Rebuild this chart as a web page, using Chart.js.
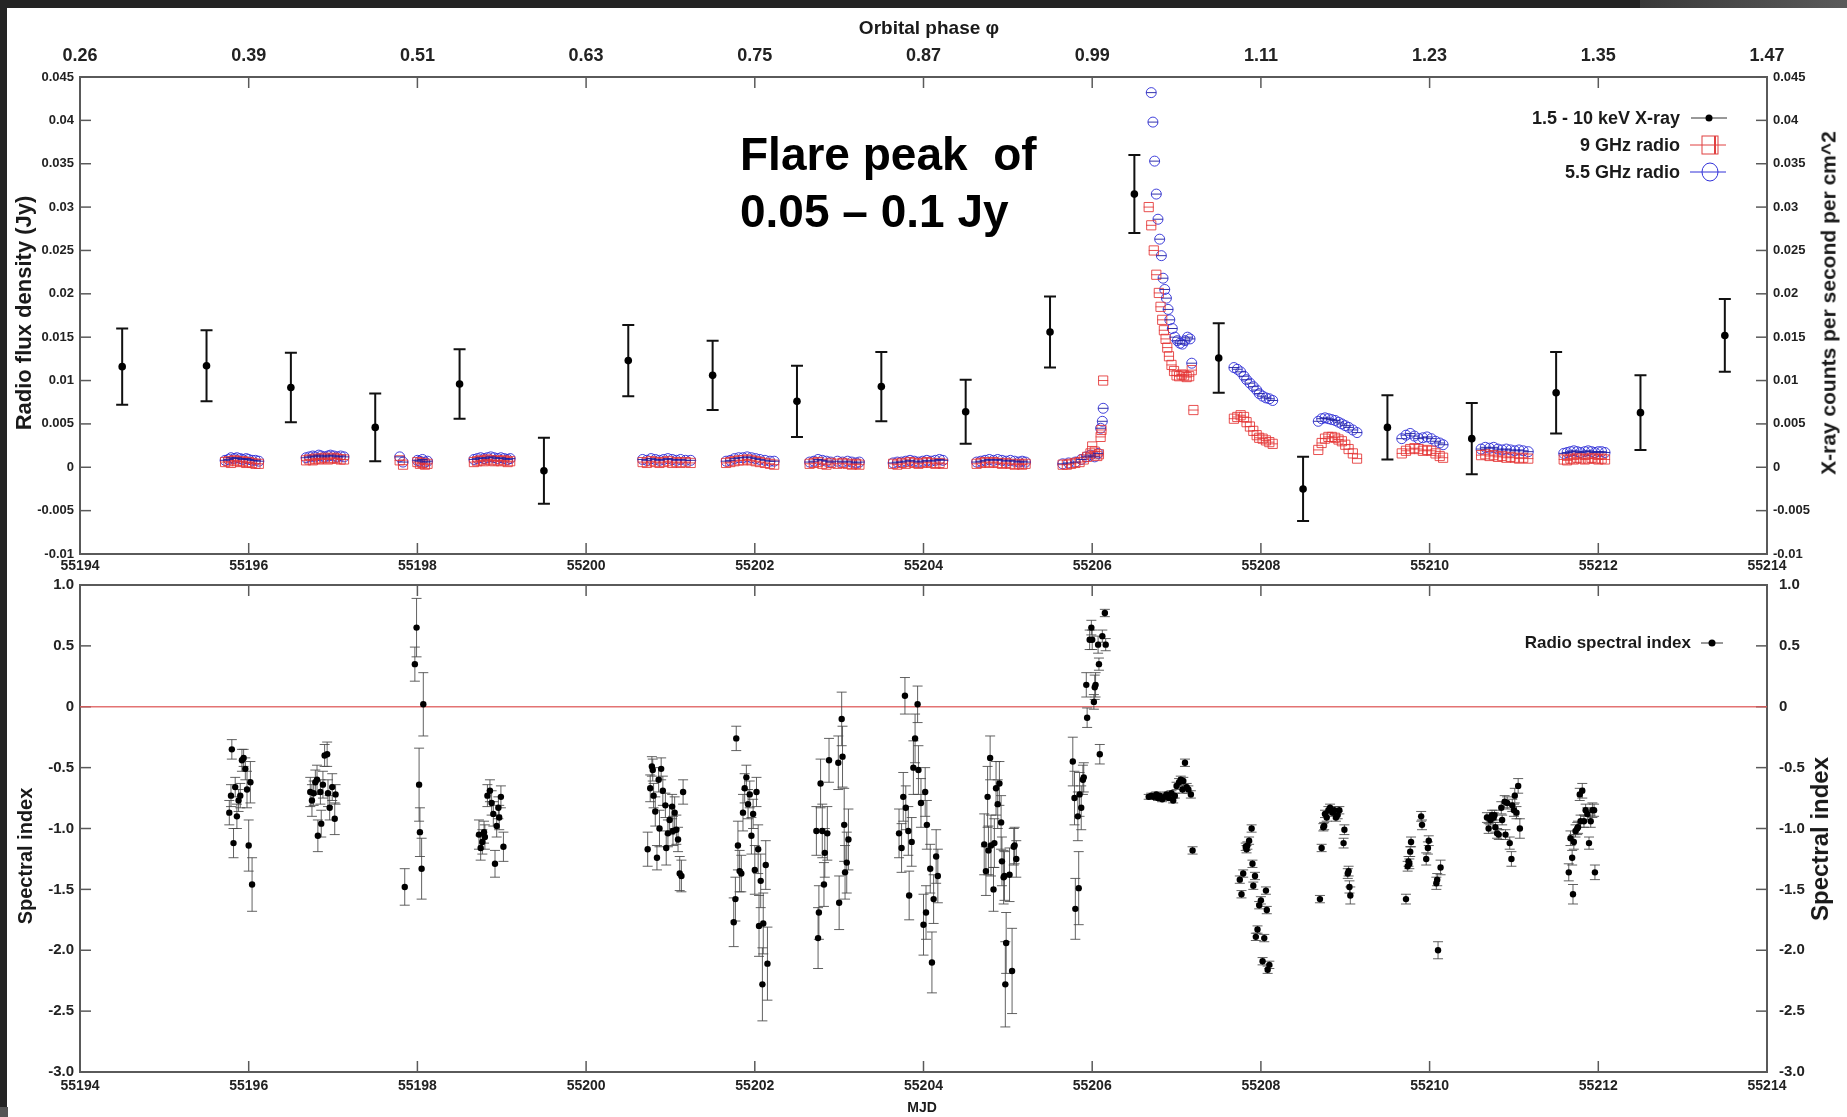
<!DOCTYPE html>
<html>
<head>
<meta charset="utf-8">
<script src="https://cdn.jsdelivr.net/npm/chart.js@4.4.0/dist/chart.umd.min.js"></script>
<style>
html,body{margin:0;padding:0;background:#fff;width:1847px;height:1117px;overflow:hidden;position:relative;font-family:"Liberation Sans",Arial,sans-serif;}
canvas{position:absolute;left:0;}
#c1{top:0;}
#c2{top:561px;}
.t{position:absolute;font-weight:bold;color:#1a1a1a;white-space:nowrap;line-height:1;}
.rot{transform:translate(-50%,-50%) rotate(-90deg);}
.ctr{transform:translate(-50%,-50%);}
.strip{position:absolute;background:#242424;}
</style>
</head>
<body>
<canvas id="c1" width="1847" height="580"></canvas>
<canvas id="c2" width="1847" height="556"></canvas>

<div class="strip" style="left:0;top:0;width:1847px;height:8px;"></div>
<div class="strip" style="left:1640px;top:0;width:207px;height:8px;background:linear-gradient(90deg,#3a3a3a,#5a5a5a);"></div>
<div class="strip" style="left:0;top:0;width:7px;height:1107px;"></div>
<div class="strip" style="left:0;top:1107px;width:8px;height:10px;background:#555;"></div>

<div class="t ctr" style="left:929px;top:27px;font-size:19px;">Orbital phase &#966;</div>
<div class="t rot" style="left:24px;top:313px;font-size:22px;">Radio flux density (Jy)</div>
<div class="t rot" style="left:1828px;top:303px;font-size:21px;">X-ray counts per second per cm^2</div>
<div class="t rot" style="left:25px;top:856px;font-size:20px;">Spectral index</div>
<div class="t rot" style="left:1820px;top:839px;font-size:24px;">Spectral index</div>
<div class="t ctr" style="left:922px;top:1107px;font-size:14px;">MJD</div>

<div class="t" style="left:740px;top:126px;font-size:46px;line-height:57px;color:#000;">Flare peak&nbsp; of<br>0.05 &#8211; 0.1 Jy</div>

<div class="t" style="right:167px;top:108px;font-size:18px;line-height:20px;text-align:right;">1.5 - 10 keV X-ray</div>
<div class="t" style="right:167px;top:135px;font-size:18px;line-height:20px;text-align:right;">9 GHz radio</div>
<div class="t" style="right:167px;top:162px;font-size:18px;line-height:20px;text-align:right;">5.5 GHz radio</div>
<div class="t" style="right:156px;top:633px;font-size:17px;line-height:20px;text-align:right;">Radio spectral index</div>

<script>
// ---------------- DATA ----------------
const mjdTicks = [55194,55196,55198,55200,55202,55204,55206,55208,55210,55212,55214];
const phaseLabels = ['0.26','0.39','0.51','0.63','0.75','0.87','0.99','1.11','1.23','1.35','1.47'];

// 1.5 - 10 keV X-ray
const xrayMJD  = [55194.5,55195.5,55196.5,55197.5,55198.5,55199.5,55200.5,55201.5,55202.5,55203.5,55204.5,55205.5,55206.5,55207.5,55208.5,55209.5,55210.5,55211.5,55212.5,55213.5];
const xrayRate = [0.0116,0.0117,0.0092,0.0046,0.0096,-0.0004,0.0123,0.0106,0.0076,0.0093,0.0064,0.0156,0.0315,0.0126,-0.0025,0.0046,0.0033,0.0086,0.0063,0.0152];
const xrayErr  = [0.0044,0.0041,0.0040,0.0039,0.0040,0.0038,0.0041,0.0040,0.0041,0.0040,0.0037,0.0041,0.0045,0.0040,0.0037,0.0037,0.0041,0.0047,0.0043,0.0042];

// 9 GHz radio (Jy)
const r9MJD = [
 55195.72,55195.76,55195.79,55195.83,55195.86,55195.90,55195.93,55195.97,55196.00,55196.04,55196.08,55196.12,
 55196.68,55196.72,55196.76,55196.79,55196.83,55196.86,55196.90,55196.94,55196.97,55197.01,55197.05,55197.09,55197.13,
 55197.79,55197.83,55198.00,55198.03,55198.06,55198.09,55198.12,
 55198.67,55198.71,55198.75,55198.79,55198.83,55198.87,55198.91,55198.95,55198.99,55199.03,55199.07,55199.10,
 55200.67,55200.72,55200.77,55200.82,55200.87,55200.92,55200.97,55201.02,55201.07,55201.12,55201.18,55201.24,
 55201.66,55201.71,55201.76,55201.81,55201.86,55201.91,55201.96,55202.01,55202.06,55202.12,55202.18,55202.23,
 55202.65,55202.70,55202.75,55202.80,55202.85,55202.90,55202.98,55203.04,55203.10,55203.15,55203.20,55203.24,
 55203.64,55203.69,55203.74,55203.79,55203.84,55203.89,55203.94,55203.99,55204.04,55204.09,55204.14,55204.19,55204.23,
 55204.63,55204.68,55204.73,55204.78,55204.83,55204.88,55204.93,55204.98,55205.03,55205.08,55205.13,55205.17,55205.21,
 55205.65,55205.70,55205.75,55205.80,55205.85,55205.90,55205.94,55205.98,55206.00,55206.03,55206.06,55206.08,55206.10,55206.11,55206.13,
 55206.67,55206.70,55206.73,55206.76,55206.79,55206.81,55206.83,55206.85,55206.87,55206.89,55206.91,55206.94,55206.97,55207.00,55207.03,55207.06,55207.09,55207.12,55207.15,55207.18,55207.20,
 55207.68,55207.72,55207.76,55207.80,55207.83,55207.87,55207.91,55207.95,55207.98,55208.02,55208.06,55208.10,55208.14,
 55208.68,55208.72,55208.76,55208.80,55208.84,55208.88,55208.92,55208.96,55209.00,55209.04,55209.09,55209.14,
 55209.67,55209.72,55209.77,55209.82,55209.87,55209.92,55209.97,55210.02,55210.07,55210.12,55210.16,
 55210.61,55210.66,55210.71,55210.76,55210.81,55210.86,55210.91,55210.96,55211.01,55211.06,55211.11,55211.17,
 55211.59,55211.63,55211.67,55211.71,55211.75,55211.79,55211.84,55211.88,55211.92,55211.96,55212.00,55212.04,55212.08
];
const r9Flux = [
 0.0006,0.0007,0.0005,0.0008,0.0007,0.0006,0.0007,0.0005,0.0006,0.0005,0.0004,0.0004,
 0.0008,0.0009,0.0008,0.0010,0.0009,0.0010,0.0011,0.0009,0.0010,0.0011,0.0010,0.0009,0.0009,
 0.0008,0.0003,0.0006,0.0004,0.0005,0.0003,0.0004,
 0.0006,0.0007,0.0008,0.0007,0.0009,0.0008,0.0007,0.0008,0.0007,0.0008,0.0006,0.0007,
 0.0006,0.0005,0.0007,0.0006,0.0005,0.0006,0.0007,0.0005,0.0006,0.0005,0.0006,0.0005,
 0.0005,0.0006,0.0007,0.0008,0.0008,0.0009,0.0008,0.0007,0.0006,0.0005,0.0004,0.0003,
 0.0004,0.0005,0.0006,0.0004,0.0003,0.0005,0.0004,0.0005,0.0004,0.0003,0.0004,0.0003,
 0.0004,0.0003,0.0005,0.0004,0.0006,0.0005,0.0004,0.0005,0.0006,0.0005,0.0004,0.0005,0.0004,
 0.0004,0.0005,0.0006,0.0005,0.0006,0.0005,0.0004,0.0005,0.0004,0.0003,0.0004,0.0003,0.0004,
 0.0003,0.0003,0.0004,0.0005,0.0006,0.0009,0.0012,0.0016,0.0024,0.0018,0.0013,0.0015,0.0035,0.0043,0.0100,
 0.0300,0.0279,0.0250,0.0222,0.0201,0.0185,0.0170,0.0158,0.0148,0.0138,0.0128,0.0118,0.0111,0.0106,0.0105,0.0107,0.0106,0.0104,0.0105,0.0112,0.0066,
 0.0056,0.0058,0.0060,0.0058,0.0052,0.0047,0.0042,0.0037,0.0034,0.0033,0.0031,0.0029,0.0027,
 0.0020,0.0028,0.0033,0.0035,0.0035,0.0034,0.0032,0.0030,0.0026,0.0021,0.0016,0.0010,
 0.0016,0.0019,0.0021,0.0022,0.0021,0.0019,0.0020,0.0019,0.0016,0.0013,0.0011,
 0.0014,0.0015,0.0013,0.0014,0.0012,0.0013,0.0011,0.0012,0.0011,0.0010,0.0011,0.0010,
 0.0009,0.0008,0.0010,0.0009,0.0011,0.0010,0.0009,0.0010,0.0011,0.0010,0.0009,0.0010,0.0009
];

// 5.5 GHz radio (Jy)
const r55MJD = [
 55195.72,55195.76,55195.79,55195.83,55195.86,55195.90,55195.93,55195.97,55196.00,55196.04,55196.08,55196.12,
 55196.68,55196.72,55196.76,55196.79,55196.83,55196.86,55196.90,55196.94,55196.97,55197.01,55197.05,55197.09,55197.13,
 55197.79,55197.83,55198.00,55198.03,55198.06,55198.09,55198.12,
 55198.67,55198.71,55198.75,55198.79,55198.83,55198.87,55198.91,55198.95,55198.99,55199.03,55199.07,55199.10,
 55200.67,55200.72,55200.77,55200.82,55200.87,55200.92,55200.97,55201.02,55201.07,55201.12,55201.18,55201.24,
 55201.66,55201.71,55201.76,55201.81,55201.86,55201.91,55201.96,55202.01,55202.06,55202.12,55202.18,55202.23,
 55202.65,55202.70,55202.75,55202.80,55202.85,55202.90,55202.98,55203.04,55203.10,55203.15,55203.20,55203.24,
 55203.64,55203.69,55203.74,55203.79,55203.84,55203.89,55203.94,55203.99,55204.04,55204.09,55204.14,55204.19,55204.23,
 55204.63,55204.68,55204.73,55204.78,55204.83,55204.88,55204.93,55204.98,55205.03,55205.08,55205.13,55205.17,55205.21,
 55205.65,55205.72,55205.80,55205.87,55205.93,55205.98,55206.03,55206.07,55206.10,55206.12,55206.13,
 55206.70,55206.72,55206.74,55206.76,55206.78,55206.80,55206.82,55206.84,55206.86,55206.88,55206.90,55206.92,55206.95,55206.98,55207.01,55207.04,55207.07,55207.10,55207.13,55207.16,55207.18,
 55207.68,55207.72,55207.76,55207.80,55207.83,55207.87,55207.91,55207.95,55207.98,55208.02,55208.06,55208.10,55208.14,
 55208.68,55208.72,55208.76,55208.80,55208.84,55208.88,55208.92,55208.96,55209.00,55209.04,55209.09,55209.14,
 55209.67,55209.72,55209.77,55209.82,55209.87,55209.92,55209.97,55210.02,55210.07,55210.12,55210.16,
 55210.61,55210.66,55210.71,55210.76,55210.81,55210.86,55210.91,55210.96,55211.01,55211.06,55211.11,55211.17,
 55211.59,55211.63,55211.67,55211.71,55211.75,55211.79,55211.84,55211.88,55211.92,55211.96,55212.00,55212.04,55212.08
];
const r55Flux = [
 0.0008,0.0009,0.0011,0.0010,0.0011,0.0010,0.0009,0.0010,0.0009,0.0008,0.0008,0.0007,
 0.0011,0.0012,0.0013,0.0012,0.0014,0.0013,0.0012,0.0013,0.0014,0.0013,0.0012,0.0013,0.0012,
 0.0012,0.0006,0.0008,0.0007,0.0009,0.0006,0.0007,
 0.0009,0.0010,0.0011,0.0010,0.0011,0.0012,0.0011,0.0010,0.0011,0.0010,0.0009,0.0010,
 0.0009,0.0008,0.0010,0.0009,0.0008,0.0009,0.0010,0.0009,0.0008,0.0009,0.0008,0.0008,
 0.0007,0.0008,0.0010,0.0011,0.0011,0.0012,0.0011,0.0010,0.0009,0.0008,0.0007,0.0007,
 0.0006,0.0007,0.0009,0.0008,0.0007,0.0006,0.0007,0.0006,0.0007,0.0006,0.0005,0.0006,
 0.0005,0.0006,0.0006,0.0007,0.0008,0.0007,0.0006,0.0007,0.0008,0.0007,0.0008,0.0009,0.0008,
 0.0006,0.0007,0.0008,0.0009,0.0008,0.0009,0.0008,0.0007,0.0008,0.0007,0.0006,0.0007,0.0006,
 0.0004,0.0005,0.0006,0.0009,0.0012,0.0014,0.0012,0.0016,0.0045,0.0053,0.0068,
 0.0432,0.0398,0.0353,0.0315,0.0286,0.0263,0.0244,0.0218,0.0205,0.0195,0.0182,0.0170,0.0160,0.0150,0.0146,0.0143,0.0142,0.0146,0.0150,0.0148,0.0120,
 0.0115,0.0113,0.0110,0.0105,0.0101,0.0097,0.0093,0.0089,0.0085,0.0082,0.0080,0.0079,0.0077,
 0.0053,0.0056,0.0057,0.0056,0.0055,0.0054,0.0052,0.0050,0.0048,0.0046,0.0043,0.0040,
 0.0033,0.0037,0.0039,0.0036,0.0033,0.0034,0.0035,0.0033,0.0030,0.0028,0.0026,
 0.0021,0.0023,0.0022,0.0023,0.0021,0.0020,0.0021,0.0020,0.0019,0.0020,0.0019,0.0018,
 0.0016,0.0017,0.0018,0.0019,0.0018,0.0017,0.0018,0.0019,0.0018,0.0017,0.0018,0.0018,0.0017
];

// Radio spectral index
const specMJD = [
 55195.77,55195.79,55195.80,55195.82,55195.84,55195.86,55195.88,55195.90,55195.92,55195.94,55195.96,55195.98,55196.00,55196.02,55196.04,
 55196.73,55196.75,55196.77,55196.79,55196.81,55196.82,55196.85,55196.86,55196.88,55196.90,55196.93,55196.94,55196.96,55196.99,55197.02,55197.03,
 55197.85,55197.97,55197.99,55198.02,55198.03,55198.05,55198.07,
 55198.73,55198.75,55198.77,55198.79,55198.80,55198.83,55198.86,55198.88,55198.90,55198.92,55198.94,55198.96,55198.97,55198.99,55199.02,
 55200.73,55200.76,55200.78,55200.79,55200.80,55200.82,55200.84,55200.86,55200.87,55200.89,55200.91,55200.94,55200.95,55200.97,55200.99,55201.02,55201.03,55201.05,55201.07,55201.09,55201.11,55201.13,55201.15,
 55201.75,55201.77,55201.78,55201.80,55201.82,55201.84,55201.86,55201.88,55201.90,55201.92,55201.94,55201.96,55201.98,55202.00,55202.02,55202.04,55202.05,55202.07,55202.09,55202.10,55202.13,55202.15,
 55202.73,55202.75,55202.76,55202.78,55202.80,55202.82,55202.83,55202.86,55202.88,55202.99,55203.00,55203.03,55203.04,55203.06,55203.07,55203.09,55203.11,
 55203.71,55203.74,55203.76,55203.78,55203.79,55203.82,55203.83,55203.86,55203.88,55203.90,55203.93,55203.94,55203.97,55204.00,55204.02,55204.03,55204.04,55204.08,55204.10,55204.12,55204.15,55204.17,
 55204.72,55204.74,55204.76,55204.77,55204.79,55204.80,55204.83,55204.84,55204.86,55204.88,55204.90,55204.92,55204.93,55204.95,55204.96,55204.97,55204.98,55205.02,55205.05,55205.07,55205.08,55205.10,
 55205.77,55205.79,55205.80,55205.83,55205.84,55205.85,55205.87,55205.89,55205.90,55205.93,55205.94,55205.97,55205.99,55206.00,55206.02,55206.03,55206.04,55206.07,55206.08,55206.09,55206.12,55206.15,55206.16,
 55206.67,55206.70,55206.73,55206.76,55206.78,55206.80,55206.83,55206.86,55206.88,55206.91,55206.94,55206.96,55206.98,55207.00,55207.03,55207.05,55207.07,55207.08,55207.10,55207.12,55207.14,55207.17,55207.19,
 55207.75,55207.77,55207.79,55207.82,55207.83,55207.84,55207.86,55207.89,55207.90,55207.91,55207.93,55207.94,55207.96,55207.98,55208.00,55208.02,55208.04,55208.06,55208.07,55208.08,55208.10,
 55208.70,55208.72,55208.74,55208.75,55208.76,55208.78,55208.80,55208.82,55208.85,55208.87,55208.89,55208.91,55208.93,55208.98,55208.99,55209.03,55209.04,55209.05,55209.06,
 55209.72,55209.74,55209.75,55209.76,55209.77,55209.78,55209.90,55209.91,55209.96,55209.98,55209.99,55210.08,55210.09,55210.10,55210.13,
 55210.68,55210.70,55210.72,55210.74,55210.76,55210.77,55210.78,55210.80,55210.82,55210.85,55210.86,55210.89,55210.90,55210.92,55210.95,55210.97,55210.98,55211.00,55211.01,55211.03,55211.05,55211.07,
 55211.65,55211.67,55211.69,55211.70,55211.71,55211.73,55211.75,55211.76,55211.78,55211.79,55211.81,55211.83,55211.85,55211.87,55211.89,55211.91,55211.93,55211.95,55211.96
];
const specIdx = [
 -0.87,-0.73,-0.35,-1.12,-0.66,-0.90,-0.77,-0.73,-0.44,-0.42,-0.51,-0.68,-1.14,-0.62,-1.46,
 -0.70,-0.77,-0.71,-0.62,-0.60,-1.06,-0.70,-0.96,-0.64,-0.40,-0.39,-0.71,-0.83,-0.66,-0.92,-0.72,
 -1.48,0.35,0.65,-0.64,-1.03,-1.33,0.02,
 -1.05,-1.16,-1.11,-1.03,-1.07,-0.73,-0.69,-0.79,-0.88,-1.29,-0.98,-0.83,-0.91,-0.74,-1.15,
 -1.17,-0.67,-0.49,-0.52,-0.73,-0.86,-1.24,-0.60,-1.00,-0.51,-0.69,-0.81,-1.16,-1.04,-0.93,-0.82,-1.02,-0.87,-1.01,-1.09,-1.37,-1.39,-0.70,
 -1.77,-1.58,-0.26,-1.14,-1.35,-1.37,-0.87,-0.67,-0.58,-0.80,-0.72,-1.06,-0.88,-1.34,-0.70,-1.17,-1.80,-1.43,-2.28,-1.78,-1.30,-2.11,
 -1.02,-1.90,-1.69,-0.63,-1.02,-1.46,-1.20,-1.04,-0.44,-0.46,-1.61,-0.10,-0.41,-0.97,-1.36,-1.28,-1.09,
 -1.04,-1.16,-0.74,0.09,-0.83,-1.02,-1.55,-1.11,-0.50,-0.26,0.02,-0.52,-0.79,-1.79,-0.70,-1.69,-0.97,-1.33,-2.10,-1.58,-1.23,-1.39,
 -1.13,-1.35,-0.74,-1.18,-0.42,-1.14,-1.50,-1.12,-0.67,-0.80,-0.63,-0.95,-1.27,-1.40,-1.39,-2.28,-1.94,-1.38,-2.17,-1.15,-1.14,-1.25,
 -0.45,-0.75,-1.66,-0.90,-1.49,-0.72,-0.83,-0.60,-0.58,0.18,-0.09,0.55,0.65,0.55,0.04,0.16,0.18,0.51,0.35,-0.39,0.58,0.77,0.51,
 -0.74,-0.73,-0.74,-0.72,-0.75,-0.73,-0.76,-0.74,-0.72,-0.75,-0.71,-0.77,-0.73,-0.65,-0.62,-0.60,-0.68,-0.61,-0.46,-0.66,-0.68,-0.72,-1.18,
 -1.42,-1.54,-1.37,-1.15,-1.17,-1.14,-1.10,-1.00,-1.29,-1.47,-1.39,-1.89,-1.83,-1.63,-1.59,-2.09,-1.90,-1.51,-1.67,-2.16,-2.12,
 -1.58,-1.16,-0.99,-0.98,-0.88,-0.91,-0.85,-0.83,-0.87,-0.85,-0.91,-0.89,-0.85,-1.12,-1.01,-1.37,-1.35,-1.48,-1.55,
 -1.58,-1.31,-1.27,-1.29,-1.19,-1.11,-0.90,-0.97,-1.25,-1.16,-1.10,-1.45,-1.42,-2.00,-1.32,
 -0.91,-1.00,-0.93,-0.89,-0.91,-0.89,-0.99,-1.04,-1.05,-0.83,-0.93,-0.78,-1.05,-0.79,-1.12,-1.25,-0.81,-0.85,-0.73,-0.87,-0.65,-1.00,
 -1.36,-1.08,-1.24,-1.54,-1.11,-1.02,-1.00,-0.99,-0.72,-0.94,-0.69,-0.94,-0.85,-0.88,-1.12,-0.94,-0.85,-0.85,-1.36
];
const specErr = [
 0.10,0.09,0.08,0.12,0.08,0.10,0.09,0.10,0.09,0.07,0.09,0.15,0.21,0.17,0.22,
 0.12,0.13,0.10,0.10,0.12,0.13,0.10,0.11,0.11,0.09,0.10,0.11,0.10,0.11,0.13,0.08,
 0.15,0.14,0.24,0.30,0.20,0.25,0.26,
 0.12,0.10,0.10,0.09,0.10,0.09,0.09,0.10,0.10,0.11,0.09,0.09,0.10,0.09,0.12,
 0.14,0.11,0.08,0.09,0.10,0.12,0.10,0.10,0.15,0.09,0.12,0.10,0.14,0.11,0.12,0.10,0.12,0.13,0.12,0.10,0.14,0.13,0.10,
 0.20,0.18,0.10,0.20,0.17,0.15,0.15,0.12,0.10,0.12,0.11,0.15,0.12,0.20,0.12,0.20,0.25,0.22,0.30,0.25,0.20,0.30,
 0.20,0.25,0.22,0.20,0.22,0.18,0.20,0.22,0.18,0.22,0.22,0.22,0.25,0.30,0.22,0.25,0.25,
 0.20,0.20,0.20,0.15,0.18,0.20,0.20,0.20,0.22,0.20,0.15,0.20,0.20,0.25,0.20,0.22,0.20,0.20,0.25,0.20,0.22,0.22,
 0.25,0.20,0.25,0.20,0.18,0.25,0.18,0.20,0.22,0.20,0.18,0.22,0.20,0.22,0.20,0.35,0.25,0.22,0.35,0.15,0.15,0.15,
 0.20,0.22,0.25,0.20,0.30,0.18,0.18,0.12,0.12,0.10,0.08,0.08,0.06,0.08,0.06,0.10,0.10,0.07,0.05,0.08,0.05,0.03,0.05,
 0.02,0.02,0.02,0.02,0.02,0.02,0.02,0.02,0.02,0.02,0.02,0.02,0.02,0.03,0.03,0.03,0.03,0.03,0.03,0.03,0.03,0.03,0.03,
 0.03,0.03,0.03,0.03,0.03,0.03,0.03,0.03,0.03,0.03,0.03,0.03,0.03,0.03,0.03,0.03,0.03,0.03,0.03,0.03,0.03,
 0.03,0.03,0.03,0.03,0.03,0.03,0.03,0.03,0.03,0.03,0.03,0.03,0.03,0.04,0.04,0.04,0.04,0.05,0.07,
 0.04,0.04,0.04,0.04,0.04,0.04,0.04,0.04,0.05,0.05,0.04,0.05,0.05,0.07,0.06,
 0.04,0.04,0.04,0.04,0.04,0.04,0.04,0.04,0.04,0.05,0.04,0.05,0.04,0.05,0.05,0.06,0.05,0.05,0.06,0.05,0.06,0.08,
 0.07,0.06,0.06,0.08,0.06,0.05,0.05,0.05,0.05,0.05,0.06,0.05,0.05,0.05,0.05,0.05,0.06,0.05,0.06
];

// ---------------- HELPERS ----------------
const pts = (xs, ys) => { const n = Math.min(xs.length, ys.length); const o = []; for (let i = 0; i < n; i++) o.push({x: xs[i], y: ys[i]}); return o; };
const FAM = '"Liberation Sans", Arial, sans-serif';
const fnt = (s) => ({family: FAM, size: s, weight: 'bold'});
const AXC = '#5a5a5a';
const TL = 11;

const inwardTicks = {
  id: 'inwardTicks',
  beforeDatasetsDraw(chart) {
    const ctx = chart.ctx, a = chart.chartArea;
    ctx.save();
    ctx.strokeStyle = AXC; ctx.lineWidth = 1.5;
    Object.values(chart.scales).forEach(s => {
      s.ticks.forEach(t => {
        const p = s.getPixelForValue(t.value);
        ctx.beginPath();
        if (s.position === 'left') { ctx.moveTo(a.left, p); ctx.lineTo(a.left + TL, p); }
        else if (s.position === 'right') { ctx.moveTo(a.right, p); ctx.lineTo(a.right - TL, p); }
        else if (s.position === 'top') { ctx.moveTo(p, a.top); ctx.lineTo(p, a.top + TL); }
        else { ctx.moveTo(p, a.bottom); ctx.lineTo(p, a.bottom - TL); }
        ctx.stroke();
      });
    });
    ctx.restore();
  }
};

const zeroLine = {
  id: 'zeroLine',
  beforeDatasetsDraw(chart) {
    if (!chart.options.plugins.zeroLine || !chart.options.plugins.zeroLine.on) return;
    const ctx = chart.ctx, a = chart.chartArea, y = chart.scales.y.getPixelForValue(0);
    ctx.save(); ctx.strokeStyle = 'rgba(222,90,90,0.85)'; ctx.lineWidth = 1.6;
    ctx.beginPath(); ctx.moveTo(a.left, y); ctx.lineTo(a.right, y); ctx.stroke(); ctx.restore();
  }
};

const errorBars = {
  id: 'errorBars',
  beforeDatasetsDraw(chart) {
    const ctx = chart.ctx;
    chart.data.datasets.forEach((ds, i) => {
      if (!ds.errY) return;
      const meta = chart.getDatasetMeta(i);
      const ys = chart.scales[meta.yAxisID];
      ctx.save();
      ctx.strokeStyle = ds.errColor; ctx.lineWidth = ds.errWidth;
      meta.data.forEach((pt, j) => {
        const v = ds.data[j].y, e = ds.errY[j] || 0;
        const y1 = ys.getPixelForValue(v + e), y2 = ys.getPixelForValue(v - e);
        const x = pt.x, c = ds.capHalf;
        ctx.beginPath();
        ctx.moveTo(x, y1); ctx.lineTo(x, y2);
        ctx.moveTo(x - c, y1); ctx.lineTo(x + c, y1);
        ctx.moveTo(x - c, y2); ctx.lineTo(x + c, y2);
        ctx.stroke();
      });
      ctx.restore();
    });
  }
};

const hBars = {
  id: 'hBars',
  afterDatasetsDraw(chart) {
    const ctx = chart.ctx;
    chart.data.datasets.forEach((ds, i) => {
      if (!ds.hBar) return;
      const meta = chart.getDatasetMeta(i);
      ctx.save(); ctx.strokeStyle = ds.hBarColor; ctx.lineWidth = 1;
      meta.data.forEach(pt => {
        ctx.beginPath(); ctx.moveTo(pt.x - ds.hBar, pt.y); ctx.lineTo(pt.x + ds.hBar, pt.y); ctx.stroke();
      });
      ctx.restore();
    });
  }
};

const legendMarks = {
  id: 'legendMarks',
  afterDraw(chart) {
    const o = chart.options.plugins.legendMarks;
    if (!o) return;
    const ctx = chart.ctx;
    ctx.save();
    o.items.forEach(it => {
      ctx.lineWidth = 1;
      const h = it.half || 18;
      if (it.kind === 'dot') {
        ctx.strokeStyle = '#333';
        ctx.beginPath(); ctx.moveTo(it.x - h, it.y); ctx.lineTo(it.x + h, it.y); ctx.stroke();
        ctx.fillStyle = '#000'; ctx.beginPath(); ctx.arc(it.x, it.y, 3.5, 0, Math.PI * 2); ctx.fill();
      } else if (it.kind === 'rect') {
        ctx.strokeStyle = '#e04040';
        ctx.beginPath(); ctx.moveTo(it.x - 20, it.y); ctx.lineTo(it.x + 16, it.y); ctx.stroke();
        ctx.strokeRect(it.x - 8, it.y - 9, 16, 18);
        ctx.lineWidth = 2; ctx.beginPath(); ctx.moveTo(it.x + 5, it.y - 9); ctx.lineTo(it.x + 5, it.y + 9); ctx.stroke();
      } else if (it.kind === 'circ') {
        ctx.strokeStyle = '#3030d8';
        ctx.beginPath(); ctx.moveTo(it.x - 20, it.y); ctx.lineTo(it.x + 16, it.y); ctx.stroke();
        ctx.beginPath(); ctx.ellipse(it.x, it.y, 8, 9, 0, 0, Math.PI * 2); ctx.stroke();
      }
    });
    ctx.restore();
  }
};

Chart.register(inwardTicks, zeroLine, errorBars, hBars, legendMarks);

const fmtFlux = v => String(Number(v.toFixed(3)));
const fmtIdx = v => (Math.abs(v) < 1e-9 ? '0' : v.toFixed(1));

const xBase = (extra) => Object.assign({
  type: 'linear', min: 55194, max: 55214,
  grid: {display: false, drawTicks: false},
  border: {display: true, color: AXC, width: 2}
}, extra);

// ---------------- TOP CHART ----------------
new Chart(document.getElementById('c1'), {
  type: 'scatter',
  data: {
    datasets: [
      {label: '1.5 - 10 keV X-ray', data: pts(xrayMJD, xrayRate), xAxisID: 'x', yAxisID: 'y',
       pointRadius: 3.8, pointBackgroundColor: '#000', pointBorderColor: '#000', pointBorderWidth: 0,
       errY: xrayErr, errColor: '#111', errWidth: 2, capHalf: 6, order: 0},
      {label: '9 GHz radio', data: pts(r9MJD, r9Flux), xAxisID: 'x', yAxisID: 'y',
       pointStyle: 'rect', pointRadius: 6.5, pointBorderWidth: 1, pointBorderColor: 'rgba(228,50,50,0.85)',
       pointBackgroundColor: 'rgba(0,0,0,0)', hBar: 5, hBarColor: 'rgba(228,50,50,0.85)', order: 1},
      {label: '5.5 GHz radio', data: pts(r55MJD, r55Flux), xAxisID: 'x', yAxisID: 'y',
       pointStyle: 'circle', pointRadius: 5, pointBorderWidth: 1, pointBorderColor: 'rgba(45,45,215,0.9)',
       pointBackgroundColor: 'rgba(0,0,0,0)', hBar: 5, hBarColor: 'rgba(30,30,160,0.9)', order: 2}
    ]
  },
  options: {
    responsive: false, animation: false, events: [],
    layout: {padding: 0},
    plugins: {
      legend: {display: false}, tooltip: {enabled: false}, title: {display: false},
      legendMarks: {items: [{kind: 'dot', x: 1709, y: 118}, {kind: 'rect', x: 1710, y: 145}, {kind: 'circ', x: 1710, y: 172}]}
    },
    scales: {
      x: xBase({position: 'bottom', ticks: {stepSize: 2, autoSkip: false, maxRotation: 0, font: fnt(14), color: '#222', padding: 4, callback: v => String(v)},
        afterFit(s) { s.height = 26; }}),
      xTop: xBase({position: 'top', ticks: {stepSize: 2, autoSkip: false, maxRotation: 0, font: fnt(18), color: '#222', padding: 10,
        callback: (v, i) => phaseLabels[mjdTicks.indexOf(v)] ?? ''},
        afterFit(s) { s.height = 77; }}),
      y: {type: 'linear', position: 'left', min: -0.01, max: 0.045,
        ticks: {stepSize: 0.005, font: fnt(13), color: '#222', padding: 6, callback: fmtFlux},
        grid: {display: false, drawTicks: false}, border: {display: true, color: AXC, width: 2},
        afterFit(s) { s.width = 80; }},
      y2: {type: 'linear', position: 'right', min: -0.01, max: 0.045,
        ticks: {stepSize: 0.005, font: fnt(13), color: '#222', padding: 6, callback: fmtFlux},
        grid: {display: false, drawTicks: false}, border: {display: true, color: AXC, width: 2},
        afterFit(s) { s.width = 80; }}
    }
  }
});

// ---------------- BOTTOM CHART ----------------
new Chart(document.getElementById('c2'), {
  type: 'scatter',
  data: {
    datasets: [
      {label: 'Radio spectral index', data: pts(specMJD, specIdx), xAxisID: 'x', yAxisID: 'y',
       pointRadius: 3.2, pointBackgroundColor: '#000', pointBorderColor: '#000', pointBorderWidth: 0,
       errY: specErr, errColor: 'rgba(70,70,70,0.85)', errWidth: 1, capHalf: 5}
    ]
  },
  options: {
    responsive: false, animation: false, events: [],
    layout: {padding: 0},
    plugins: {
      legend: {display: false}, tooltip: {enabled: false}, title: {display: false},
      zeroLine: {on: true},
      legendMarks: {items: [{kind: 'dot', x: 1712, y: 82, half: 11}]}
    },
    scales: {
      x: xBase({position: 'bottom', ticks: {stepSize: 2, autoSkip: false, maxRotation: 0, font: fnt(14), color: '#222', padding: 6, callback: v => String(v)},
        afterFit(s) { s.height = 45; }}),
      xTop: xBase({position: 'top', ticks: {stepSize: 2, display: false}, afterFit(s) { s.height = 24; }}),
      y: {type: 'linear', position: 'left', min: -3, max: 1,
        ticks: {stepSize: 0.5, font: fnt(15), color: '#222', padding: 6, callback: fmtIdx},
        grid: {display: false, drawTicks: false}, border: {display: true, color: AXC, width: 2},
        afterFit(s) { s.width = 80; }},
      y2: {type: 'linear', position: 'right', min: -3, max: 1,
        ticks: {stepSize: 0.5, font: fnt(15), color: '#222', padding: 12, callback: fmtIdx},
        grid: {display: false, drawTicks: false}, border: {display: true, color: AXC, width: 2},
        afterFit(s) { s.width = 80; }}
    }
  }
});
</script>
</body>
</html>
